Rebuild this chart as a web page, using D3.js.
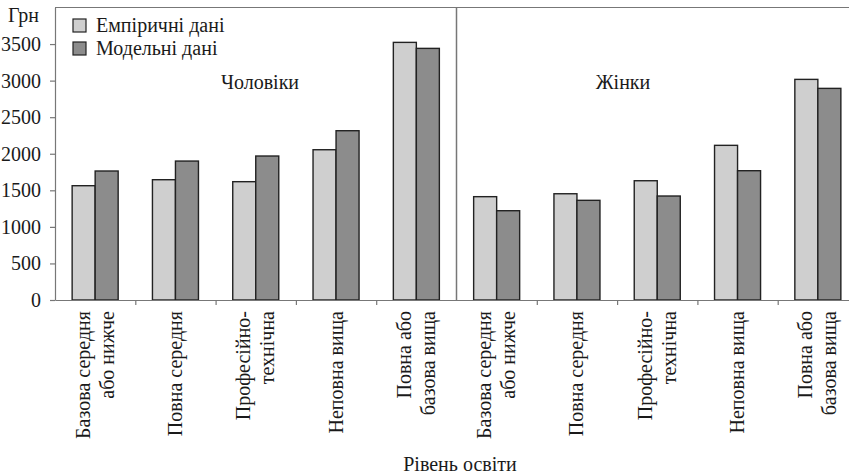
<!DOCTYPE html>
<html>
<head>
<meta charset="utf-8">
<script src="https://cdn.jsdelivr.net/npm/d3@7"></script>
<style>
  body { margin: 0; background: #fff; }
</style>
</head>
<body>
<div id="chart"></div>
<script>
// education levels (label lines), repeated for men and women
var levels = [
  ["Базова середня", "або нижче"],
  ["Повна середня"],
  ["Професійно-", "технічна"],
  ["Неповна вища"],
  ["Повна або", "базова вища"]
];
var groups = ["Чоловіки", "Жінки"];
var seriesNames = ["Емпіричні дані", "Модельні дані"];
// men first 5, women next 5
var empirical = [1563, 1645, 1618, 2055, 3523, 1413, 1453, 1631, 2115, 3017];
var modelled = [1764, 1900, 1969, 2315, 3441, 1221, 1363, 1422, 1768, 2894];
var yTicks = [0, 500, 1000, 1500, 2000, 2500, 3000, 3500];

var width = 849,
  height = 476;
var margin = { top: 7.5, left: 55 };
var plotBottom = 300;
var plotRight = 858;
var fontFamily = "'Liberation Serif', 'Times New Roman', serif";
var fontSize = "20px";
var textColor = "#1a1a1a";

var data = [];
groups.forEach(function (g, gi) {
  levels.forEach(function (l, li) {
    var i = gi * levels.length + li;
    data.push({ key: "c" + i, label: l, emp: empirical[i], mod: modelled[i] });
  });
});

var svg = d3.select("#chart").append("svg").attr("width", width).attr("height", height)
  .style("font-family", fontFamily);

var x = d3
  .scaleBand()
  .domain(data.map(function (d) { return d.key; }))
  .range([margin.left, plotRight])
  .paddingInner(0)
  .paddingOuter(0);
var xIdx = d3.scaleLinear().domain([0, data.length]).range([margin.left, plotRight]);
var x1 = d3.scaleBand().domain(["emp", "mod"]).range([0, x.bandwidth()]).paddingInner(0).paddingOuter(0.745);
var y = d3.scaleLinear().domain([0, 4000]).range([plotBottom, margin.top]);

var fills = { emp: "#cfcfcf", mod: "#8c8c8c" };
var axisColor = "#777";

function styleText(sel) {
  return sel.style("font-family", fontFamily).style("font-size", fontSize).attr("fill", textColor);
}

// top frame line
svg.append("line")
  .attr("x1", margin.left).attr("x2", width)
  .attr("y1", y(4000)).attr("y2", y(4000))
  .attr("stroke", axisColor).attr("stroke-width", 1.2);

// divider between men and women
svg.append("line")
  .attr("x1", xIdx(5)).attr("x2", xIdx(5))
  .attr("y1", y(4000)).attr("y2", y(0))
  .attr("stroke", axisColor).attr("stroke-width", 1.5);

// bars
var grp = svg.selectAll("g.grp").data(data).enter().append("g")
  .attr("class", "grp")
  .attr("transform", function (d) { return "translate(" + x(d.key) + ",0)"; });
grp.selectAll("rect")
  .data(function (d) { return [{ s: "emp", v: d.emp }, { s: "mod", v: d.mod }]; })
  .enter().append("rect")
  .attr("x", function (d) { return x1(d.s); })
  .attr("width", x1.bandwidth())
  .attr("y", function (d) { return y(d.v); })
  .attr("height", function (d) { return y(0) - y(d.v); })
  .attr("fill", function (d) { return fills[d.s]; })
  .attr("stroke", "#222")
  .attr("stroke-width", 1.4);

// x axis with ticks between categories
var gX = svg.append("g").attr("transform", "translate(0," + plotBottom + ")")
  .call(d3.axisBottom(xIdx).tickValues([1, 2, 3, 4, 6, 7, 8, 9]).tickFormat("").tickSizeInner(5).tickSizeOuter(0));
gX.selectAll("path, line").attr("stroke", axisColor).attr("stroke-width", 1.2);

// y axis
var gY = svg.append("g").attr("transform", "translate(" + margin.left + ",0)")
  .call(d3.axisLeft(y).tickValues(yTicks).tickFormat(d3.format("d")).tickSizeInner(5).tickSizeOuter(0).tickPadding(9));
gY.attr("font-family", null).attr("font-size", null);
gY.selectAll("path, line").attr("stroke", axisColor).attr("stroke-width", 1.2);
styleText(gY.selectAll("text"));

// category labels, rotated
var lab = svg.selectAll("text.cat").data(data).enter().append("text")
  .attr("class", "cat")
  .attr("text-anchor", "end")
  .attr("transform", function (d) {
    var cx = x(d.key) + x.bandwidth() / 2;
    return "translate(" + cx + ",311) rotate(-90)";
  });
styleText(lab);
lab.selectAll("tspan")
  .data(function (d) {
    var n = d.label.length;
    return d.label.map(function (t, i) { return { t: t, dy: n === 1 ? 6.5 : (i === 0 ? -5.5 : 24) }; });
  })
  .enter().append("tspan")
  .attr("x", 0)
  .attr("dy", function (d) { return d.dy; })
  .text(function (d) { return d.t; });

// group titles
styleText(svg.selectAll("text.grp").data(groups).enter().append("text")
  .attr("class", "grp")
  .attr("text-anchor", "middle")
  .attr("x", function (d, i) { return i === 0 ? 260 : 623; })
  .attr("y", 89)
  .text(function (d) { return d; }));

// legend
var leg = svg.selectAll("g.leg").data(seriesNames).enter().append("g")
  .attr("class", "leg")
  .attr("transform", function (d, i) { return "translate(73," + (19 + i * 23) + ")"; });
leg.append("rect")
  .attr("width", 13).attr("height", 13)
  .attr("fill", function (d, i) { return i === 0 ? fills.emp : fills.mod; })
  .attr("stroke", "#222").attr("stroke-width", 1.2);
styleText(leg.append("text")
  .attr("x", 23).attr("y", 12.5)
  .text(function (d) { return d; }));

// unit and axis title
styleText(svg.append("text").attr("x", 8).attr("y", 22).text("Грн"));
styleText(svg.append("text").attr("x", 460).attr("y", 471).attr("text-anchor", "middle").text("Рівень освіти"));
</script>
</body>
</html>
